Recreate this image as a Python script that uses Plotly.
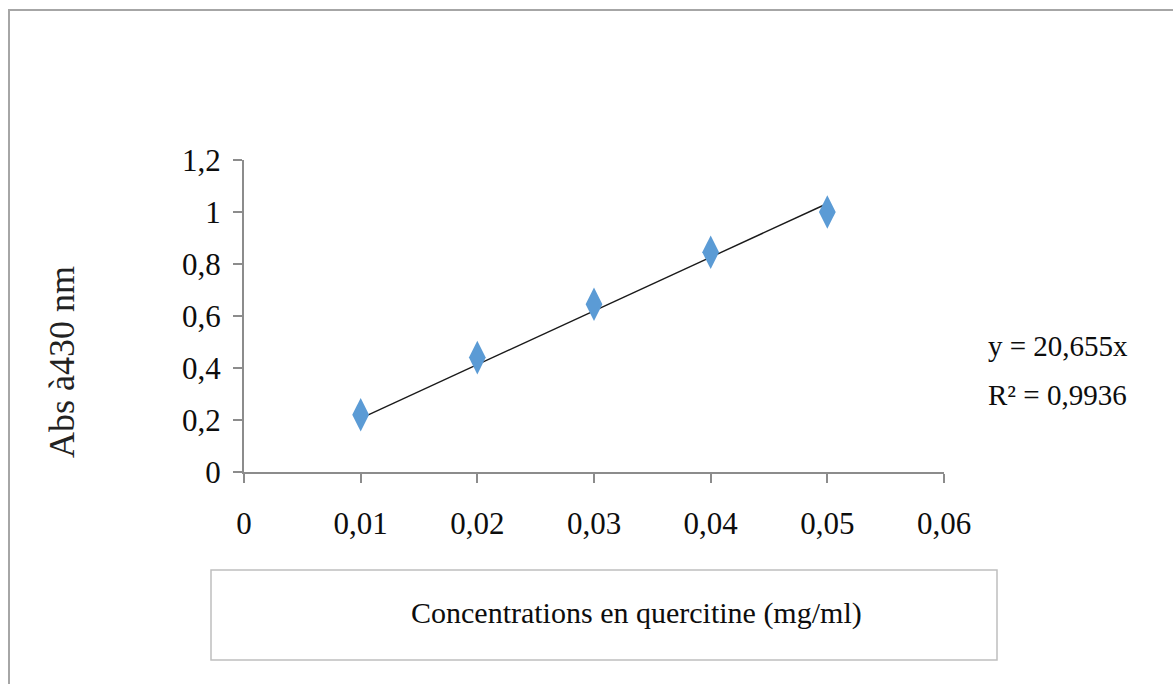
import plotly.graph_objects as go

# Quercetin calibration data
conc = [0.01, 0.02, 0.03, 0.04, 0.05]          # mg/ml
absorbance = [0.22, 0.44, 0.645, 0.845, 1.0]   # Abs at 430 nm

slope = 20.655
r2_text = "0,9936"

x_ticks = [0, 0.01, 0.02, 0.03, 0.04, 0.05, 0.06]
x_ticktext = ["0", "0,01", "0,02", "0,03", "0,04", "0,05", "0,06"]
y_ticks = [0, 0.2, 0.4, 0.6, 0.8, 1.0, 1.2]
y_ticktext = ["0", "0,2", "0,4", "0,6", "0,8", "1", "1,2"]

fit_x = [conc[0], conc[-1]]
fit_y = [slope * v for v in fit_x]

W, H = 1173, 684
L, R, T, B = 244, 229, 160, 212
pw, ph = W - L - R, H - T - B


def px_x(p):
    return (p - L) / pw


def px_y(p):
    return (H - B - p) / ph


serif = "Liberation Serif, Times New Roman, serif"
axis_grey = "#8c8c8c"

fig = go.Figure()
fig.add_trace(go.Scatter(
    x=fit_x, y=fit_y, mode="lines",
    line=dict(color="#1a1a1a", width=1.4),
    hoverinfo="skip", showlegend=False,
))
fig.add_trace(go.Scatter(
    x=conc, y=absorbance, mode="markers",
    marker=dict(symbol="diamond-tall", size=24, color="#5b9bd5"),
    showlegend=False,
))

fig.update_xaxes(
    range=[0, 0.06], tickvals=x_ticks, ticktext=x_ticktext,
    showgrid=False, zeroline=False, showline=True, linecolor=axis_grey, linewidth=2,
    ticks="outside", ticklen=9, tickwidth=2, tickcolor=axis_grey,
    tickfont=dict(family=serif, size=31, color="#0d0d0d"), ticklabelstandoff=14,
)
fig.update_yaxes(
    range=[0, 1.2], tickvals=y_ticks, ticktext=y_ticktext,
    showgrid=False, zeroline=False, showline=True, linecolor=axis_grey, linewidth=2,
    ticks="outside", ticklen=9, tickwidth=2, tickcolor=axis_grey,
    tickfont=dict(family=serif, size=31, color="#0d0d0d"), ticklabelstandoff=6,
)

shapes = [
    # outer chart frame
    dict(type="rect", xref="paper", yref="paper",
         x0=px_x(9), x1=px_x(1185), y0=px_y(700), y1=px_y(10),
         line=dict(color="#a6a6a6", width=2), fillcolor="rgba(0,0,0,0)", layer="below"),
    # box around the x-axis title
    dict(type="rect", xref="paper", yref="paper",
         x0=px_x(211), x1=px_x(997), y0=px_y(660), y1=px_y(570),
         line=dict(color="#bfbfbf", width=1.5), fillcolor="rgba(0,0,0,0)"),
]

annotations = [
    dict(text="Concentrations en quercitine (mg/ml)", xref="paper", yref="paper",
         x=px_x(636), y=px_y(613), showarrow=False, xanchor="center", yanchor="middle",
         font=dict(family=serif, size=30, color="#0d0d0d")),
    dict(text="Abs à430 nm", xref="paper", yref="paper",
         x=px_x(62), y=px_y(362), showarrow=False, textangle=-90,
         xanchor="center", yanchor="middle",
         font=dict(family=serif, size=36, color="#222")),
    dict(text=f"y = {str(slope).replace('.', ',')}x", xref="paper", yref="paper",
         x=px_x(986), y=px_y(346), showarrow=False, xanchor="left", yanchor="middle",
         font=dict(family=serif, size=29, color="#0d0d0d")),
    dict(text=f"R² = {r2_text}", xref="paper", yref="paper",
         x=px_x(986), y=px_y(395), showarrow=False, xanchor="left", yanchor="middle",
         font=dict(family=serif, size=29, color="#0d0d0d")),
]

fig.update_layout(
    width=W, height=H, autosize=False,
    margin=dict(l=L, r=R, t=T, b=B),
    paper_bgcolor="white", plot_bgcolor="white",
    shapes=shapes, annotations=annotations,
)

fig.write_html("out.html")
